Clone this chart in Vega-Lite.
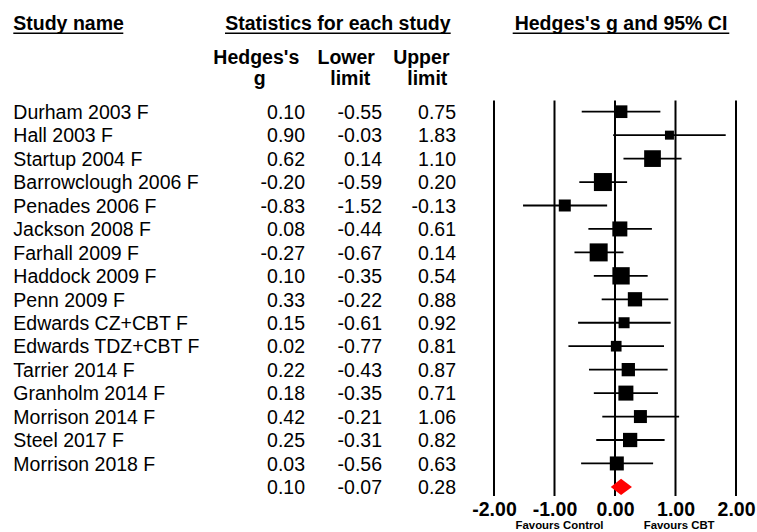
{
  "$schema": "https://vega.github.io/schema/vega-lite/v6.json",
  "padding": 0,
  "spacing": 0,
  "bounds": "flush",
  "config": {
    "view": {"stroke": null},
    "font": "Liberation Sans",
    "locale": {"number": {"decimal": ".", "thousands": ",", "grouping": [3], "currency": ["$", ""], "minus": "-"}}
  },
  "datasets": {
    "rows": [
      {"study": "Durham 2003 F", "g": 0.10, "lower": -0.55, "upper": 0.75, "weight": 4.96, "order": 1, "kind": "study"},
      {"study": "Hall 2003 F", "g": 0.90, "lower": -0.03, "upper": 1.83, "weight": 2.49, "order": 2, "kind": "study"},
      {"study": "Startup 2004 F", "g": 0.62, "lower": 0.14, "upper": 1.10, "weight": 8.59, "order": 3, "kind": "study"},
      {"study": "Barrowclough 2006 F", "g": -0.20, "lower": -0.59, "upper": 0.20, "weight": 9.98, "order": 4, "kind": "study"},
      {"study": "Penades 2006 F", "g": -0.83, "lower": -1.52, "upper": -0.13, "weight": 4.43, "order": 5, "kind": "study"},
      {"study": "Jackson 2008 F", "g": 0.08, "lower": -0.44, "upper": 0.61, "weight": 6.93, "order": 6, "kind": "study"},
      {"study": "Farhall 2009 F", "g": -0.27, "lower": -0.67, "upper": 0.14, "weight": 9.98, "order": 7, "kind": "study"},
      {"study": "Haddock 2009 F", "g": 0.10, "lower": -0.35, "upper": 0.54, "weight": 9.24, "order": 8, "kind": "study"},
      {"study": "Penn 2009 F", "g": 0.33, "lower": -0.22, "upper": 0.88, "weight": 6.28, "order": 9, "kind": "study"},
      {"study": "Edwards CZ+CBT F", "g": 0.15, "lower": -0.61, "upper": 0.92, "weight": 3.73, "order": 10, "kind": "study"},
      {"study": "Edwards TDZ+CBT F", "g": 0.02, "lower": -0.77, "upper": 0.81, "weight": 3.51, "order": 11, "kind": "study"},
      {"study": "Tarrier 2014 F", "g": 0.22, "lower": -0.43, "upper": 0.87, "weight": 5.45, "order": 12, "kind": "study"},
      {"study": "Granholm 2014 F", "g": 0.18, "lower": -0.35, "upper": 0.71, "weight": 6.93, "order": 13, "kind": "study"},
      {"study": "Morrison 2014 F", "g": 0.42, "lower": -0.21, "upper": 1.06, "weight": 5.20, "order": 14, "kind": "study"},
      {"study": "Steel 2017 F", "g": 0.25, "lower": -0.31, "upper": 0.82, "weight": 6.28, "order": 15, "kind": "study"},
      {"study": "Morrison 2018 F", "g": 0.03, "lower": -0.56, "upper": 0.63, "weight": 6.03, "order": 16, "kind": "study"},
      {"study": "", "g": 0.10, "lower": -0.07, "upper": 0.28, "weight": null, "order": 17, "kind": "summary"}
    ],
    "refs": [{"v": -2}, {"v": -1}, {"v": 0}, {"v": 1}, {"v": 2}]
  },
  "hconcat": [
    {
      "width": 480,
      "height": 496,
      "layer": [
        {
          "data": {"name": "rows"},
          "transform": [{"filter": "datum.kind == 'study'"}],
          "mark": {"type": "text", "align": "left", "baseline": "alphabetic", "dy": 7.3, "fontSize": 19.5, "color": "black"},
          "encoding": {
            "x": {"datum": 13.3, "type": "quantitative", "scale": {"domain": [0, 480], "nice": false, "zero": false}, "axis": null},
            "y": {"field": "order", "type": "quantitative", "scale": {"domain": [-3.763, 17.388], "reverse": true, "nice": false, "zero": false}, "axis": null},
            "text": {"field": "study"}
          }
        },
        {
          "data": {"name": "rows"},
          "mark": {"type": "text", "align": "right", "baseline": "alphabetic", "dy": 7.3, "fontSize": 19.5, "color": "black"},
          "encoding": {
            "x": {"datum": 305, "type": "quantitative"},
            "y": {"field": "order", "type": "quantitative"},
            "text": {"field": "g", "format": ".2f"}
          }
        },
        {
          "data": {"name": "rows"},
          "mark": {"type": "text", "align": "right", "baseline": "alphabetic", "dy": 7.3, "fontSize": 19.5, "color": "black"},
          "encoding": {
            "x": {"datum": 382, "type": "quantitative"},
            "y": {"field": "order", "type": "quantitative"},
            "text": {"field": "lower", "format": ".2f"}
          }
        },
        {
          "data": {"name": "rows"},
          "mark": {"type": "text", "align": "right", "baseline": "alphabetic", "dy": 7.3, "fontSize": 19.5, "color": "black"},
          "encoding": {
            "x": {"datum": 456, "type": "quantitative"},
            "y": {"field": "order", "type": "quantitative"},
            "text": {"field": "upper", "format": ".2f"}
          }
        },
        {
          "data": {"values": [{}]},
          "mark": {"type": "text", "text": "Study name", "align": "left", "baseline": "alphabetic", "fontSize": 19.5, "fontWeight": "bold", "color": "black"},
          "encoding": {"x": {"datum": 13.3, "type": "quantitative"}, "y": {"datum": -2.463, "type": "quantitative"}}
        },
        {
          "data": {"values": [{}]},
          "mark": {"type": "text", "text": "Statistics for each study", "align": "center", "baseline": "alphabetic", "fontSize": 19.5, "fontWeight": "bold", "color": "black"},
          "encoding": {"x": {"datum": 337.9, "type": "quantitative"}, "y": {"datum": -2.463, "type": "quantitative"}}
        },
        {
          "data": {"values": [{}]},
          "mark": {"type": "rule", "strokeWidth": 1.6, "color": "black"},
          "encoding": {"x": {"datum": 13.3, "type": "quantitative"}, "x2": {"datum": 123.3}, "y": {"datum": -2.343, "type": "quantitative"}}
        },
        {
          "data": {"values": [{}]},
          "mark": {"type": "rule", "strokeWidth": 1.6, "color": "black"},
          "encoding": {"x": {"datum": 225, "type": "quantitative"}, "x2": {"datum": 450.7}, "y": {"datum": -2.343, "type": "quantitative"}}
        },
        {
          "data": {"values": [{}]},
          "mark": {"type": "text", "text": "Hedges's", "align": "center", "baseline": "alphabetic", "fontSize": 19.5, "fontWeight": "bold", "color": "black"},
          "encoding": {"x": {"datum": 256.3, "type": "quantitative"}, "y": {"datum": -1.021, "type": "quantitative"}}
        },
        {
          "data": {"values": [{}]},
          "mark": {"type": "text", "text": "g", "align": "center", "baseline": "alphabetic", "fontSize": 19.5, "fontWeight": "bold", "color": "black"},
          "encoding": {"x": {"datum": 259.7, "type": "quantitative"}, "y": {"datum": -0.139, "type": "quantitative"}}
        },
        {
          "data": {"values": [{}]},
          "mark": {"type": "text", "text": "Lower", "align": "center", "baseline": "alphabetic", "fontSize": 19.5, "fontWeight": "bold", "color": "black"},
          "encoding": {"x": {"datum": 346.2, "type": "quantitative"}, "y": {"datum": -1.021, "type": "quantitative"}}
        },
        {
          "data": {"values": [{}]},
          "mark": {"type": "text", "text": "limit", "align": "center", "baseline": "alphabetic", "fontSize": 19.5, "fontWeight": "bold", "color": "black"},
          "encoding": {"x": {"datum": 350.3, "type": "quantitative"}, "y": {"datum": -0.139, "type": "quantitative"}}
        },
        {
          "data": {"values": [{}]},
          "mark": {"type": "text", "text": "Upper", "align": "center", "baseline": "alphabetic", "fontSize": 19.5, "fontWeight": "bold", "color": "black"},
          "encoding": {"x": {"datum": 421.3, "type": "quantitative"}, "y": {"datum": -1.021, "type": "quantitative"}}
        },
        {
          "data": {"values": [{}]},
          "mark": {"type": "text", "text": "limit", "align": "center", "baseline": "alphabetic", "fontSize": 19.5, "fontWeight": "bold", "color": "black"},
          "encoding": {"x": {"datum": 427.3, "type": "quantitative"}, "y": {"datum": -0.139, "type": "quantitative"}}
        }
      ]
    },
    {
      "width": 277,
      "height": 496,
      "layer": [
        {
          "data": {"name": "refs"},
          "mark": {"type": "rule", "strokeWidth": 2, "color": "black"},
          "encoding": {
            "x": {
              "field": "v", "type": "quantitative",
              "scale": {"domain": [-2.2314, 2.3471], "nice": false, "zero": false},
              "axis": {
                "values": [-2, -1, 0, 1, 2], "format": ".2f", "title": null,
                "domain": false, "ticks": false, "tickSize": 0, "grid": false,
                "labelFont": "Liberation Sans", "labelFontWeight": "bold", "labelFontSize": 19.5,
                "labelColor": "black", "labelPadding": 4.6, "labelFlush": false, "labelOverlap": false, "labelBound": false
              }
            },
            "y": {"datum": 0.522, "type": "quantitative", "scale": {"domain": [-3.763, 17.388], "reverse": true, "nice": false, "zero": false}, "axis": null},
            "y2": {"datum": 17.388}
          }
        },
        {
          "data": {"name": "rows"},
          "transform": [{"filter": "datum.kind == 'study'"}],
          "mark": {"type": "rule", "strokeWidth": 1.8, "color": "black"},
          "encoding": {
            "x": {"field": "lower", "type": "quantitative"},
            "x2": {"field": "upper"},
            "y": {"field": "order", "type": "quantitative"}
          }
        },
        {
          "data": {"name": "rows"},
          "transform": [{"filter": "datum.kind == 'study'"}],
          "mark": {"type": "point", "shape": "square", "filled": true, "opacity": 1, "color": "black", "strokeWidth": 0},
          "encoding": {
            "x": {"field": "g", "type": "quantitative"},
            "y": {"field": "order", "type": "quantitative"},
            "size": {"field": "weight", "type": "quantitative", "scale": {"domain": [0, 10], "range": [0, 325]}, "legend": null}
          }
        },
        {
          "data": {"name": "rows"},
          "transform": [
            {"filter": "datum.kind == 'summary'"},
            {"fold": ["lower", "g", "upper"], "as": ["key", "value"]},
            {"calculate": "datum.key == 'g' ? 0.35 : 0", "as": "half"},
            {"calculate": "datum.order - datum.half", "as": "ytop"},
            {"calculate": "datum.order + datum.half", "as": "ybot"}
          ],
          "mark": {"type": "area", "color": "#ff0000", "opacity": 1},
          "encoding": {
            "x": {"field": "value", "type": "quantitative"},
            "y": {"field": "ytop", "type": "quantitative"},
            "y2": {"field": "ybot"}
          }
        },
        {
          "data": {"values": [{}]},
          "mark": {"type": "text", "text": "Hedges's g and 95% CI", "align": "center", "baseline": "alphabetic", "fontSize": 19.5, "fontWeight": "bold", "color": "black"},
          "encoding": {"x": {"datum": 0.099, "type": "quantitative"}, "y": {"datum": -2.463, "type": "quantitative"}}
        },
        {
          "data": {"values": [{}]},
          "mark": {"type": "rule", "strokeWidth": 1.6, "color": "black"},
          "encoding": {"x": {"datum": -1.691, "type": "quantitative"}, "x2": {"datum": 1.889}, "y": {"datum": -2.343, "type": "quantitative"}}
        },
        {
          "data": {"values": [{}]},
          "mark": {"type": "text", "text": "Favours Control", "align": "center", "baseline": "alphabetic", "fontSize": 11.4, "fontWeight": "bold", "color": "black"},
          "encoding": {"x": {"datum": -0.917, "type": "quantitative"}, "y": {"datum": 18.808, "type": "quantitative"}}
        },
        {
          "data": {"values": [{}]},
          "mark": {"type": "text", "text": "Favours CBT", "align": "center", "baseline": "alphabetic", "fontSize": 11.4, "fontWeight": "bold", "color": "black"},
          "encoding": {"x": {"datum": 1.06, "type": "quantitative"}, "y": {"datum": 18.808, "type": "quantitative"}}
        }
      ]
    }
  ]
}
